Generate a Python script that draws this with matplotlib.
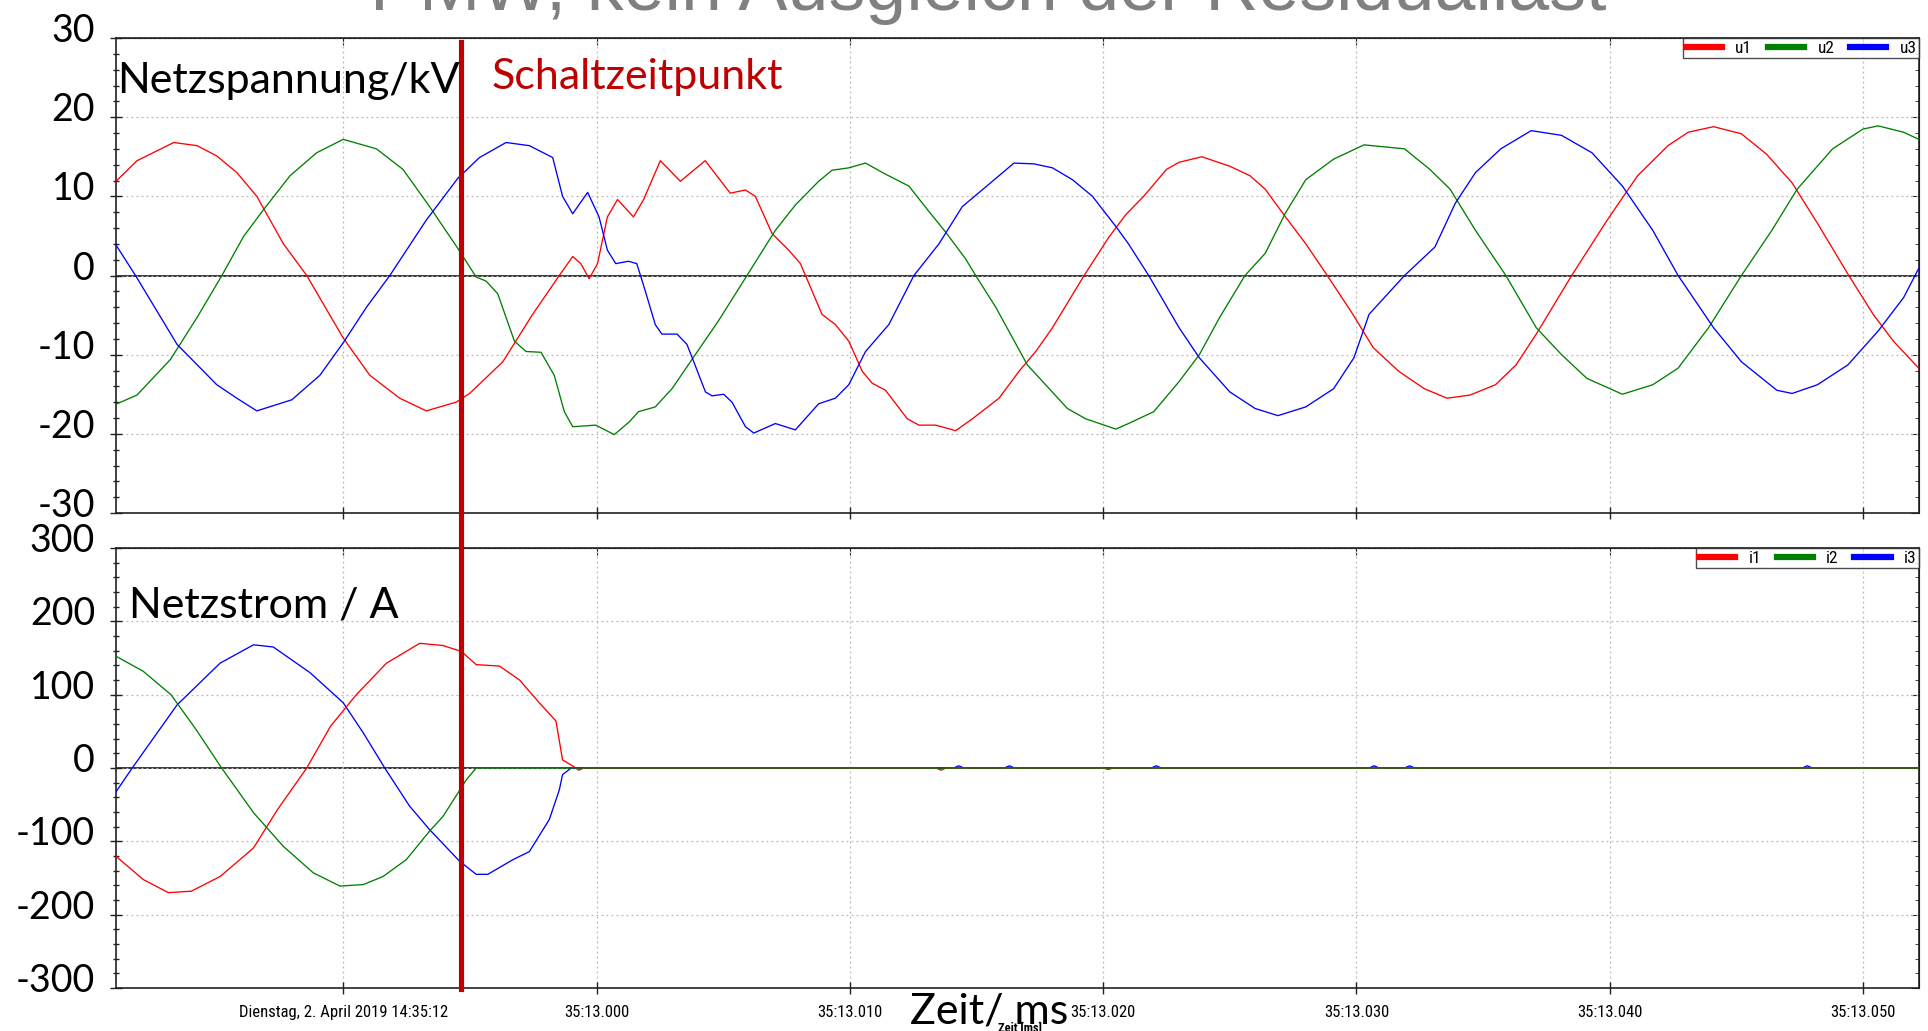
"""
Three-phase grid voltage and current around the switching instant.
"""

import matplotlib
matplotlib.use("Agg")
import matplotlib.pyplot as plt
import matplotlib.transforms as mtransforms
from matplotlib import font_manager
from matplotlib.lines import Line2D
import numpy as np


# ---------------------------------------------------------------------------
# Data (time in ms relative to 14:35:13.000)
# ---------------------------------------------------------------------------

t_u1 = [-19.0, -18.14, -16.69, -15.77, -14.99, -14.2, -13.41, -12.36, -11.44, -10.0,
        -8.95, -7.77, -6.72, -5.54, -5.01, -3.7, -2.52, -1.47, -0.94, -0.62, -0.29,
        0.04, 0.43, 0.83, 1.46, 1.86, 2.52, 3.31, 4.29, 5.28, 5.88, 6.27, 6.93, 7.59,
        8.05, 8.25, 8.9, 9.43, 9.96, 10.49, 10.88, 11.41, 12.27, 12.73, 13.39, 14.18,
        14.84, 15.89, 16.68, 17.34, 18.0, 19.25, 20.24, 20.9, 21.6, 22.5, 23.0, 23.9,
        25.0, 25.8, 26.4, 27.2, 28.0, 28.85, 29.86, 30.66, 31.67, 32.68, 33.58, 34.49,
        35.49, 36.3, 37.1, 38.5, 39.9, 41.1, 42.3, 43.1, 44.1, 45.2, 46.2, 47.2, 48.2,
        49.4, 50.4, 51.2, 52.2]
u1 = [11.8, 14.5, 16.8, 16.4, 15.1, 13.0, 10.0, 4.0, 0.0, -7.9,
      -12.6, -15.5, -17.1, -16.0, -14.9, -10.9, -4.9, 0.0, 2.4, 1.5, -0.4,
      1.5, 7.4, 9.6, 7.4, 9.6, 14.5, 11.9, 14.5, 10.4, 10.8, 10.0, 5.3, 3.2,
      1.5, 0.0, -4.9, -6.2, -8.3, -12.1, -13.6, -14.5, -18.1, -18.9, -18.9, -19.6,
      -18.1, -15.5, -12.1, -9.6, -6.6, 0.0, 4.9, 7.7, 10.0, 13.4, 14.3, 15.0,
      13.8, 12.6, 10.9, 7.4, 4.0, 0.0, -4.9, -9.1, -12.1, -14.3, -15.5, -15.1,
      -13.8, -11.3, -7.4, 0.0, 7.0, 12.6, 16.4, 18.1, 18.8, 17.9, 15.3, 11.7, 6.6,
      0.2, -4.9, -8.3, -11.7]

t_u2 = [-19.0, -18.14, -16.82, -15.77, -14.79, -13.94, -13.15, -12.1, -11.05, -10.0,
        -8.69, -7.64, -6.59, -5.47, -4.75, -4.36, -3.9, -3.24, -2.78, -2.19, -1.67,
        -1.27, -0.94, -0.03, 0.7, 1.29, 1.66, 2.32, 2.98, 3.9, 4.82, 5.94, 7.06, 7.85,
        8.77, 9.3, 9.96, 10.62, 11.41, 12.33, 13.12, 13.78, 14.57, 14.97, 15.76, 17.01,
        17.73, 18.59, 19.31, 20.5, 21.0, 22.0, 23.0, 23.8, 24.6, 25.6, 26.4, 27.2,
        28.0, 29.1, 30.3, 31.9, 32.9, 33.7, 34.7, 35.9, 37.1, 38.1, 39.1, 40.5, 41.7,
        42.7, 43.9, 45.2, 46.4, 47.4, 48.8, 50.0, 50.6, 51.6, 52.2]
u2 = [-16.3, -15.1, -10.6, -5.3, 0.0, 4.9, 8.3, 12.6, 15.5, 17.2,
      16.0, 13.4, 8.7, 3.4, -0.2, -0.7, -2.3, -8.3, -9.6, -9.7, -12.6,
      -17.2, -19.1, -18.9, -20.1, -18.5, -17.2, -16.6, -14.3, -10.0, -5.7, 0.0, 5.7, 8.9,
      11.9, 13.3, 13.6, 14.2, 12.8, 11.3, 8.1, 5.5, 2.1, 0.0, -4.0, -11.3,
      -13.8, -16.8, -18.1, -19.4, -18.7, -17.2, -13.4, -10.0, -5.3, 0.0, 2.8, 7.9,
      12.1, 14.7, 16.5, 16.0, 13.4, 10.9, 5.7, 0.0, -6.6, -10.0, -13.0, -15.0, -13.8,
      -11.7, -6.6, 0.0, 5.7, 10.9, 16.0, 18.5, 18.9, 18.1, 17.2]

t_u3 = [-19.0, -18.2, -16.56, -14.99, -14.2, -13.41, -12.03, -10.92, -10.0, -9.08,
        -8.16, -6.72, -5.47, -4.62, -3.57, -2.65, -1.73, -1.34, -0.94, -0.35, 0.1,
        0.43, 0.76, 1.26, 1.59, 1.92, 2.32, 2.58, 3.18, 3.57, 3.84, 4.3, 4.56, 5.02,
        5.35, 5.88, 6.21, 7.06, 7.85, 8.77, 9.43, 9.96, 10.62, 11.54, 12.53, 13.52,
        14.44, 15.63, 16.48, 17.27, 18.0, 18.79, 19.58, 20.5, 21.0, 21.8, 23.0, 23.8,
        25.0, 26.0, 26.9, 28.0, 29.1, 29.9, 30.5, 31.9, 33.1, 33.9, 34.7, 35.7, 36.9,
        38.1, 39.3, 40.5, 41.7, 42.7, 44.1, 45.2, 46.6, 47.2, 48.2, 49.4, 50.6, 51.6,
        52.2]
u3 = [4.0, 0.0, -8.7, -13.8, -15.5, -17.1, -15.7, -12.6, -8.5, -4.0,
      0.0, 7.0, 12.3, 14.9, 16.8, 16.4, 14.9, 10.0, 7.8, 10.5, 7.4,
      3.2, 1.5, 1.8, 1.5, -1.9, -6.2, -7.4, -7.4, -8.7, -10.9, -14.7, -15.2, -15.0,
      -16.0, -19.1, -19.9, -18.7, -19.5, -16.2, -15.5, -13.8, -9.6, -6.2, 0.0, 4.0,
      8.7, 11.9, 14.2, 14.1, 13.6, 12.1, 10.0, 6.2, 4.0, 0.0, -6.6, -10.4,
      -14.7, -16.8, -17.7, -16.6, -14.3, -10.4, -4.9, 0.0, 3.6, 9.1, 13.0, 16.0, 18.3,
      17.7, 15.5, 11.3, 5.7, 0.0, -6.6, -10.9, -14.5, -14.9, -13.8, -11.3, -7.0, -2.8,
      0.9]

t_i1 = [-19.0, -17.9, -16.9, -16.0, -14.86, -13.54, -12.6, -11.44, -10.5, -9.48,
        -8.29, -6.98, -6.06, -5.34, -4.75, -3.83, -3.04, -2.26, -1.6, -1.34, -0.9,
        -0.7, -0.5, 13.4, 13.6, 13.8, 20.0, 20.2, 20.4, 52.2]
i1 = [-119.5, -152, -170, -168, -148, -109, -57, 0, 57, 100,
      143, 170, 167, 159, 141, 139, 120, 89, 64, 11, 2,
      -3, 0, 0, -3, 0, 0, -2, 0, 0]

t_i2 = [-19.0, -17.9, -16.8, -15.8, -14.8, -13.54, -12.36, -11.18, -10.13, -9.21,
        -8.43, -7.51, -6.59, -6.06, -5.47, -5.14, -4.75, 52.2]
i2 = [153, 132, 100, 52, 0, -61, -107, -143, -161, -159,
      -148, -125, -86, -66, -34, -16, 0, 0]

t_i3 = [-19.0, -18.33, -16.56, -14.86, -13.54, -12.76, -11.31, -10.0, -9.21, -8.36,
        -7.38, -6.59, -5.41, -4.75, -4.29, -3.3, -2.65, -1.86, -1.47, -1.34, -1.0,
        14.1, 14.3, 14.5, 16.1, 16.3, 16.5, 21.9, 22.1, 22.3, 30.5, 30.7, 30.9,
        31.9, 32.1, 32.3, 47.6, 47.8, 48.0, 52.2]
i3 = [-34, 0, 86, 143, 168, 165, 130, 89, 48, 0,
      -52, -84, -127, -145, -145, -125, -114, -70, -30, -9, 0,
      0, 3, 0, 0, 3, 0, 0, 3, 0, 0, 3, 0,
      0, 3, 0, 0, 3, 0, 0]

switch_t = -5.34  # Schaltzeitpunkt

x_ticks = [-10, 0, 10, 20, 30, 40, 50]
x_labels = ["Dienstag, 2. April 2019 14:35:12", "35:13.000", "35:13.010",
            "35:13.020", "35:13.030", "35:13.040", "35:13.050"]
u_ticks = [-30, -20, -10, 0, 10, 20, 30]
i_ticks = [-300, -200, -100, 0, 100, 200, 300]

phase_colors = ["#ff0000", "#008000", "#0000ff"]


# ---------------------------------------------------------------------------
# Helpers
# ---------------------------------------------------------------------------

def pick_font(candidates):
    for name in candidates:
        try:
            font_manager.findfont(name, fallback_to_default=False)
            return name
        except ValueError:
            pass
    return "DejaVu Sans"


BIG = pick_font(["Lato", "Open Sans", "DejaVu Sans"])
NARROW = pick_font(["Liberation Sans Narrow", "Roboto Condensed", "Liberation Sans"])
ARIAL = pick_font(["Liberation Sans", "DejaVu Sans"])
narrow_ok = NARROW != ARIAL

W, H = 1928, 1031
fig = plt.figure(figsize=(W / 100, H / 100), dpi=100)
fig.patch.set_facecolor("white")


def fx(px):
    return px / W


def fy(py):
    return 1 - py / H


def style_axes(ax, ylim, yticks, yminor):
    ax.set_xlim(-18.97, 52.21)
    ax.set_ylim(*ylim)
    ax.set_xticks(x_ticks)
    ax.set_yticks(yticks)
    ax.set_yticks(yminor, minor=True)
    ax.grid(True, which="major", color="#b8b8b8", linestyle=(0, (1.5, 2.5)), linewidth=0.9)
    ax.axhline(0, color="black", linewidth=1.1, zorder=1.5)
    for sp in ax.spines.values():
        sp.set_color("#222222")
        sp.set_linewidth(1.2)
    ax.tick_params(axis="both", which="major", direction="inout", length=9,
                   width=1.0, color="#222222", labelleft=False, labelbottom=False,
                   right=False, top=False)
    ax.tick_params(axis="y", which="minor", direction="inout", length=5, width=1.0,
                   color="#222222", right=False)
    # inward ticks on the top and right edges
    top = ax.secondary_xaxis("top")
    top.set_xticks(x_ticks)
    top.tick_params(direction="in", length=5, labeltop=False, color="#222222")
    right = ax.secondary_yaxis("right")
    right.set_yticks(yticks)
    right.set_yticks(yminor, minor=True)
    right.tick_params(which="major", direction="in", length=6, labelright=False, color="#222222")
    right.tick_params(which="minor", direction="in", length=3, color="#222222")
    # large value labels left of the axis
    off = mtransforms.ScaledTranslation(-0.21, 0.07, fig.dpi_scale_trans)
    trans = mtransforms.blended_transform_factory(ax.transAxes, ax.transData) + off
    for v in yticks:
        ax.text(0, v, f"{v}", transform=trans, ha="right", va="center",
                fontsize=27, family=BIG, clip_on=False)


def add_legend(ax, names):
    handles = [Line2D([], [], color=c, linewidth=4.5) for c in phase_colors]
    leg = ax.legend(handles, names, loc="upper right", ncol=3, frameon=True,
                    fancybox=False, borderaxespad=0.0, borderpad=0.15,
                    handlelength=2.1, handletextpad=0.75, columnspacing=0.9,
                    prop={"family": NARROW, "size": 12.5 if narrow_ok else 11})
    leg.get_frame().set_edgecolor("#222222")
    leg.get_frame().set_linewidth(1.0)
    leg.set_zorder(5)


# ---------------------------------------------------------------------------
# Voltage
# ---------------------------------------------------------------------------

ax_u = fig.add_axes([fx(116), fy(513), fx(1919) - fx(116), fy(38) - fy(513)])
style_axes(ax_u, (-30, 30), u_ticks, np.arange(-30, 31, 2))
for t, v, c in zip([t_u1, t_u2, t_u3], [u1, u2, u3], phase_colors):
    ax_u.plot(t, v, color=c, linewidth=0.95, zorder=3)
add_legend(ax_u, ["u1", "u2", "u3"])

# ---------------------------------------------------------------------------
# Current (green drawn last so the de-energised phases show green at zero)
# ---------------------------------------------------------------------------

ax_i = fig.add_axes([fx(116), fy(988), fx(1919) - fx(116), fy(548) - fy(988)])
style_axes(ax_i, (-300, 300), i_ticks, np.arange(-300, 301, 20))
for t, v, c, z in zip([t_i1, t_i2, t_i3], [i1, i2, i3], phase_colors, [3.1, 3.2, 3.0]):
    ax_i.plot(t, v, color=c, linewidth=0.95, zorder=z)
add_legend(ax_i, ["i1", "i2", "i3"])

ax_i.tick_params(axis="x", labelbottom=True, pad=7.5)
ax_i.set_xticks(x_ticks, x_labels)
for lab in ax_i.get_xticklabels():
    lab.set_family(NARROW)
    lab.set_fontsize(12 if narrow_ok else 10.5)

# switching instant across both panels
sw_trans = mtransforms.blended_transform_factory(ax_u.transData, fig.transFigure)
fig.add_artist(Line2D([switch_t, switch_t], [fy(42), fy(989)], transform=sw_trans,
                      color="#c00000", linewidth=3.7, zorder=10))

# ---------------------------------------------------------------------------
# Annotations
# ---------------------------------------------------------------------------

fig.text(fx(988), fy(10), "PMW, kein Ausgleich der Residuallast", ha="center",
         va="baseline", fontsize=53, color="#808080", family=ARIAL)
fig.text(fx(117), fy(93), "Netzspannung/kV", ha="left", va="baseline",
         fontsize=31, family=BIG, zorder=11)
fig.text(fx(492), fy(89), "Schaltzeitpunkt", ha="left", va="baseline",
         fontsize=31, family=BIG, color="#c00000", zorder=11)
fig.text(fx(129), fy(617), "Netzstrom / A", ha="left", va="baseline",
         fontsize=31, family=BIG, zorder=11)
fig.text(fx(1020), fy(1022), "Zeit [ms]", ha="center", va="top", fontsize=9,
         fontweight="bold", family=NARROW)
fig.text(fx(910), fy(1023), "Zeit/ ms", ha="left", va="baseline", fontsize=31,
         family=BIG, zorder=11)

fig.savefig("out.png", dpi=100)
